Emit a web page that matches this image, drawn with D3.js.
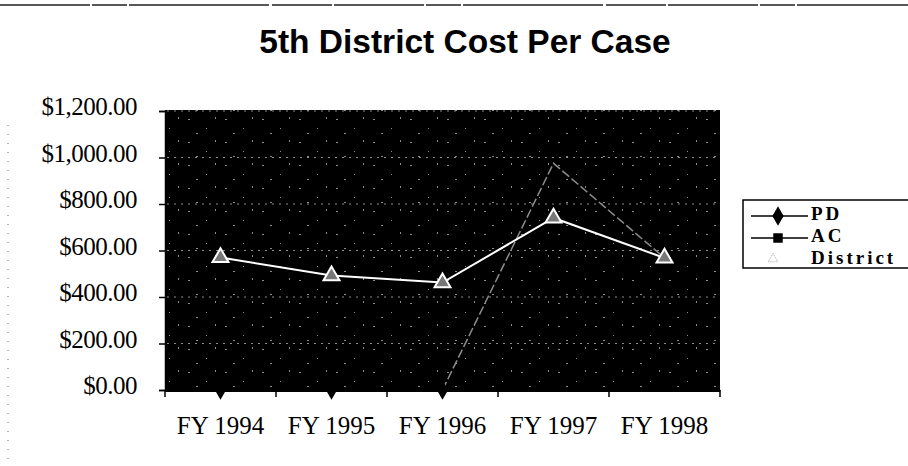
<!DOCTYPE html>
<html>

<head>
    <title>5th District Cost Per Case</title>
    <script src="https://d3js.org/d3.v7.min.js"></script>
    <style>
        body { margin: 0; background: #fff; }
    </style>
</head>

<body>

    <script>
        // values
        var years = ['FY 1994', 'FY 1995', 'FY 1996', 'FY 1997', 'FY 1998'],
            pd = [0, 0, 0, null, null],
            ac = [null, null, 0, 975, 568],
            district = [570, 492, 462, 740, 568],
            y_ticks = [0, 200, 400, 600, 800, 1000, 1200],
            legend_names = ['PD', 'AC', 'District'];

        var width = 908,
            height = 466;

        var svg = d3.select('body')
            .append('svg')
            .attr('width', width)
            .attr('height', height);

        var x_scale = d3.scaleBand()
            .domain(years)
            .range([165, 720])
            .padding(0);

        var y_scale = d3.scaleLinear()
            .domain([0, 1200])
            .range([390, 111]);

        // speckle texture of the scan, as a repeating tile
        var defs = svg.append('defs');
        var pat = defs.append('pattern')
            .attr('id', 'speck')
            .attr('width', 37)
            .attr('height', 23)
            .attr('patternUnits', 'userSpaceOnUse');
        pat.append('rect').attr('width', 37).attr('height', 23).attr('fill', '#000');
        [[3, 4, 2, 1], [21, 13, 1, 1], [30, 2, 1, 2], [11, 18, 2, 1]].forEach(function (s) {
            pat.append('rect')
                .attr('x', s[0]).attr('y', s[1])
                .attr('width', s[2]).attr('height', s[3])
                .attr('fill', '#8a8a8a');
        });

        // page border left by the scanner
        svg.append('line')
            .attr('x1', 0).attr('x2', width)
            .attr('y1', 5).attr('y2', 5)
            .attr('stroke', '#222')
            .attr('stroke-width', 1.5)
            .attr('stroke-dasharray', '90,2,35,2,140,3,60,2');
        svg.append('line')
            .attr('x1', 8).attr('x2', 8)
            .attr('y1', 125).attr('y2', height)
            .attr('stroke', '#666')
            .attr('stroke-dasharray', '1,8');

        // title
        svg.append('text')
            .attr('x', 465)
            .attr('y', 53)
            .attr('text-anchor', 'middle')
            .style('font-family', '"Liberation Sans", Arial, sans-serif')
            .style('font-weight', 'bold')
            .style('font-size', '33.5px')
            .text('5th District Cost Per Case');

        // plot area
        svg.append('rect')
            .attr('x', x_scale.range()[0])
            .attr('y', 110)
            .attr('width', x_scale.range()[1] - x_scale.range()[0])
            .attr('height', 282)
            .attr('fill', 'url(#speck)');

        // dotted gridlines
        svg.append('g')
            .selectAll('line')
            .data(y_ticks.slice(1))
            .join('line')
            .attr('x1', x_scale.range()[0] + 2)
            .attr('x2', x_scale.range()[1] - 2)
            .attr('y1', function (d) { return y_scale(d); })
            .attr('y2', function (d) { return y_scale(d); })
            .attr('stroke', '#8a8a8a')
            .attr('stroke-width', 1)
            .attr('stroke-dasharray', '2,5');

        // y axis
        var y_axis = d3.axisLeft()
            .scale(y_scale)
            .tickValues(y_ticks)
            .tickSize(6)
            .tickPadding(22)
            .tickFormat(function (d) { return '$' + d3.format(',.2f')(d); });

        var gy = svg.append('g')
            .attr('transform', 'translate(165, 0)')
            .call(y_axis);
        gy.select('.domain').attr('stroke', '#000').attr('stroke-width', 1.5);
        gy.selectAll('.tick line').attr('stroke', '#000').attr('stroke-width', 1.5);
        gy.selectAll('.tick text')
            .attr('dy', '0.14em')
            .style('font-family', '"Liberation Serif", "Times New Roman", serif')
            .style('font-size', '25px')
            .style('letter-spacing', '-0.5px')
            .attr('fill', '#000');

        // x axis: labels centred, ticks on the category edges
        var x_axis = d3.axisBottom()
            .scale(x_scale)
            .tickSize(0)
            .tickPadding(0);

        var gx = svg.append('g')
            .attr('transform', 'translate(0, 390)')
            .call(x_axis);
        gx.select('.domain').attr('stroke', '#000').attr('stroke-width', 1.5);
        gx.selectAll('.tick text')
            .attr('y', 44)
            .attr('dy', 0)
            .style('font-family', '"Liberation Serif", "Times New Roman", serif')
            .style('font-size', '25px')
            .attr('fill', '#000');

        var edges = years.map(function (d) { return x_scale(d); }).concat([x_scale.range()[1]]);
        gx.append('g')
            .selectAll('line')
            .data(edges)
            .join('line')
            .attr('x1', function (d) { return d; })
            .attr('x2', function (d) { return d; })
            .attr('y1', 0)
            .attr('y2', 7)
            .attr('stroke', '#000')
            .attr('stroke-width', 1.5);

        function cx(i) {
            return x_scale(years[i]) + x_scale.bandwidth() / 2;
        }

        var line = d3.line()
            .defined(function (d) { return d != null; })
            .x(function (d, i) { return cx(i); })
            .y(function (d) { return y_scale(d); });

        // AC series (shows grey on the scan)
        svg.append('path')
            .datum(ac)
            .attr('d', line)
            .attr('fill', 'none')
            .attr('stroke', '#8c8c8c')
            .attr('stroke-width', 1.5)
            .attr('stroke-dasharray', '9,3');

        // District series
        svg.append('path')
            .datum(district)
            .attr('d', line)
            .attr('fill', 'none')
            .attr('stroke', '#fff')
            .attr('stroke-width', 2);

        svg.append('g')
            .selectAll('path')
            .data(district)
            .join('path')
            .attr('transform', function (d, i) { return 'translate(' + cx(i) + ',' + y_scale(d) + ')'; })
            .attr('d', d3.symbol().type(d3.symbolTriangle).size(110))
            .attr('fill', '#777')
            .attr('stroke', '#fff')
            .attr('stroke-width', 2);

        // PD series, black diamonds along zero
        svg.append('path')
            .datum(pd)
            .attr('d', line)
            .attr('fill', 'none')
            .attr('stroke', '#000')
            .attr('stroke-width', 1.5);

        svg.append('g')
            .selectAll('path')
            .data(pd.map(function (d, i) { return { v: d, i: i }; }).filter(function (d) { return d.v != null; }))
            .join('path')
            .attr('transform', function (d) { return 'translate(' + cx(d.i) + ',' + y_scale(d.v) + ')'; })
            .attr('d', d3.symbol().type(d3.symbolDiamond).size(110))
            .attr('fill', '#000');

        // legend
        var legend = svg.append('g');
        legend.append('rect')
            .attr('x', 743)
            .attr('y', 200)
            .attr('width', 200)
            .attr('height', 68)
            .attr('fill', '#fff')
            .attr('stroke', '#000')
            .attr('stroke-width', 1.5);

        var rows = [220, 242, 264];
        var markers = [d3.symbolDiamond, d3.symbolSquare, d3.symbolTriangle];

        legend_names.forEach(function (name, i) {
            if (i < 2) {
                legend.append('line')
                    .attr('x1', 751).attr('x2', 808)
                    .attr('y1', rows[i] - 4).attr('y2', rows[i] - 4)
                    .attr('stroke', '#000')
                    .attr('stroke-width', 1.5);
                legend.append('path')
                    .attr('transform', 'translate(778,' + (rows[i] - 4) + ')')
                    .attr('d', d3.symbol().type(markers[i]).size(i == 0 ? 110 : 90))
                    .attr('fill', '#000');
            } else {
                legend.append('path')
                    .attr('transform', 'translate(773,' + (rows[i] - 5) + ')')
                    .attr('d', d3.symbol().type(markers[i]).size(40))
                    .attr('fill', 'none')
                    .attr('stroke', '#aaa')
                    .attr('stroke-dasharray', '1,1');
            }
            legend.append('text')
                .attr('x', 811)
                .attr('y', rows[i])
                .style('font-family', '"Liberation Serif", "Times New Roman", serif')
                .style('font-weight', 'bold')
                .style('font-size', '19px')
                .style('letter-spacing', '3px')
                .text(name);
        });
    </script>

</body>

</html>
